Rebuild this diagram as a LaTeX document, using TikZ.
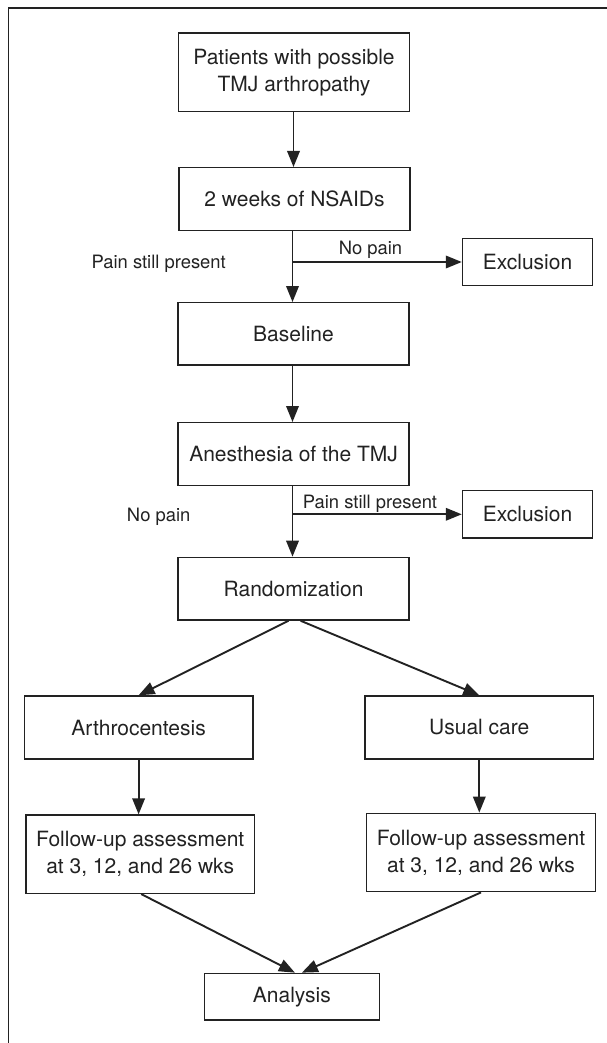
\documentclass[tikz,border=0pt]{standalone}
\usepackage{fontspec}
\setmainfont{TeX Gyre Heros}
\usetikzlibrary{arrows.meta}
\definecolor{ink}{HTML}{222222}
\begin{document}
\begin{tikzpicture}[x=1pt,y=-1pt,
  box/.style={draw=ink,line width=1.4pt,text=ink,align=center,inner sep=0pt,
    font=\fontsize{21}{27}\selectfont},
  lbl/.style={text=ink,inner sep=0pt,font=\fontsize{18.4}{22}\selectfont},
  arr/.style={draw=ink,line width=1.9pt,-{Triangle[length=16pt,width=12.5pt]}}]
\useasboundingbox (0,0) rectangle (607,1043);
% frame
\draw[ink,line width=1.4pt] (8.5,1050) -- (8.5,8) -- (615,8);
% nodes
\node[box,minimum width=231pt,minimum height=78.7pt] (p) at (294,72.4) {Patients with possible\\TMJ arthropathy};
\node[box,minimum width=231pt,minimum height=62.6pt] (n) at (294.5,199) {2 weeks of NSAIDs};
\node[box,minimum width=130pt,minimum height=47pt] (e1) at (527.5,261.8) {Exclusion};
\node[box,minimum width=231pt,minimum height=62.3pt] (b) at (293.5,333.9) {Baseline};
\node[box,minimum width=231pt,minimum height=62.6pt] (a) at (293.6,454) {Anesthesia of the TMJ};
\node[box,minimum width=130pt,minimum height=47.3pt] (e2) at (527.5,514.3) {Exclusion};
\node[box,minimum width=231pt,minimum height=62.7pt] (r) at (293.6,588.7) {Randomization};
\node[box,minimum width=228.4pt,minimum height=63pt] (ar) at (138.6,727.5) {Arthrocentesis};
\node[box,minimum width=228.5pt,minimum height=63pt] (uc) at (479.3,727.5) {Usual care};
\node[box,minimum width=228.4pt,minimum height=78.3pt] (f1) at (140.2,854.2) {Follow-up assessment\\at 3, 12, and 26 wks};
\node[box,minimum width=228.8pt,minimum height=78.4pt] (f2) at (481,852.5) {Follow-up assessment\\at 3, 12, and 26 wks};
\node[box,minimum width=175pt,minimum height=46.7pt] (an) at (291.9,996.7) {Analysis};
% labels
\node[lbl] (l1) at (370.5,250) {No pain};
\node[lbl] (l2) at (158.7,264) {Pain still present};
\node[lbl] (l3) at (370,503.3) {Pain still present};
\node[lbl] (l4) at (158.7,516.7) {No pain};
% branch points
\coordinate (j1) at (292.5,262);
\coordinate (j2) at (292.5,514.3);
% connectors
\draw[arr] (p.south -| 293.5,0) -- (n.north -| 293.5,0);
\draw[arr] (n.south -| j1) -- (b.north -| j1);
\draw[arr] (j1) -- (e1.west |- j1);
\draw[arr] (b.south -| j2) -- (a.north -| j2);
\draw[arr] (a.south -| j2) -- (r.north -| j2);
\draw[arr] (j2) -- (e2.west |- j2);
\draw[arr] ([xshift=-5pt]r.south) -- (ar.north);
\draw[arr] ([xshift=7pt]r.south) -- (uc.north);
\draw[arr] (ar.south) -- (f1.north -| ar.south);
\draw[arr] (uc.south) -- (f2.north -| uc.south);
\draw[arr] ([xshift=1pt]f1.south) -- ([xshift=3pt]an.north);
\draw[arr] (f2.south) -- ([xshift=10pt]an.north);
\end{tikzpicture}
\end{document}
